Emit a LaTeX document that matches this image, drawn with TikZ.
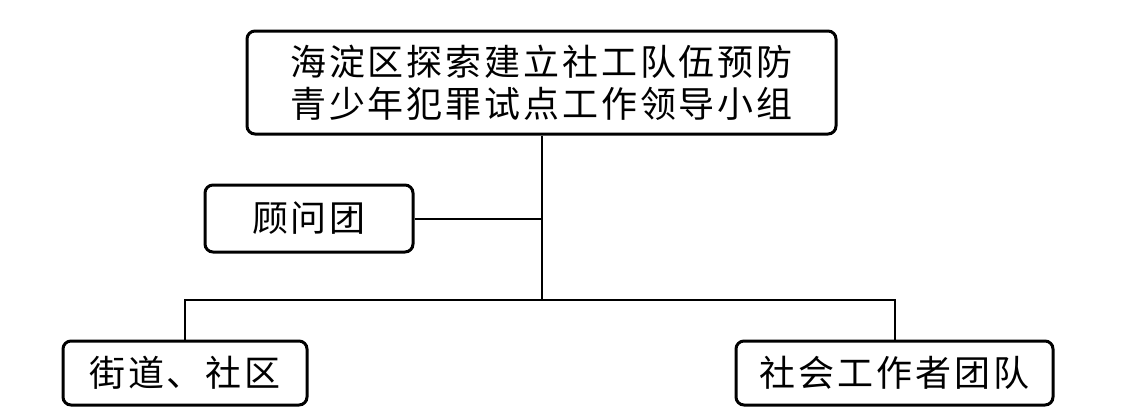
\documentclass[tikz,border=0pt]{standalone}
\usepackage{fontspec}
\newfontfamily\cjk{Noto Sans CJK SC}[LetterSpace=8]
\begin{document}
\begin{tikzpicture}[x=0.5pt,y=-0.5pt,
  orgbox/.style={draw=black,line width=1.5pt,rounded corners=4pt,fill=white,
    inner sep=0pt,align=center,
    font=\cjk\fontsize{18pt}{21pt}\selectfont},
  link/.style={draw=black,line width=1pt}]
\useasboundingbox[fill=white] (0,0) rectangle (1134,418);
\node[orgbox,minimum width=294.5pt,minimum height=51.5pt] (top) at (541.5,82.5)
  {海淀区探索建立社工队伍预防\\青少年犯罪试点工作领导小组};
\node[orgbox,minimum width=104pt,minimum height=33.5pt] (adv) at (309,218.5) {顾问团};
\node[orgbox,minimum width=122pt,minimum height=32pt] (lft) at (185,373) {街道、社区};
\node[orgbox,minimum width=158.5pt,minimum height=32pt] (rgt) at (894.5,373) {社会工作者团队};
\coordinate (j) at (541.5,300);
\draw[link] (top.south) -- (j);
\draw[link] (adv.east) -- (adv.east -| j);
\draw[link] (lft.north) |- (j);
\draw[link] (rgt.north) |- (j);
\end{tikzpicture}
\end{document}
